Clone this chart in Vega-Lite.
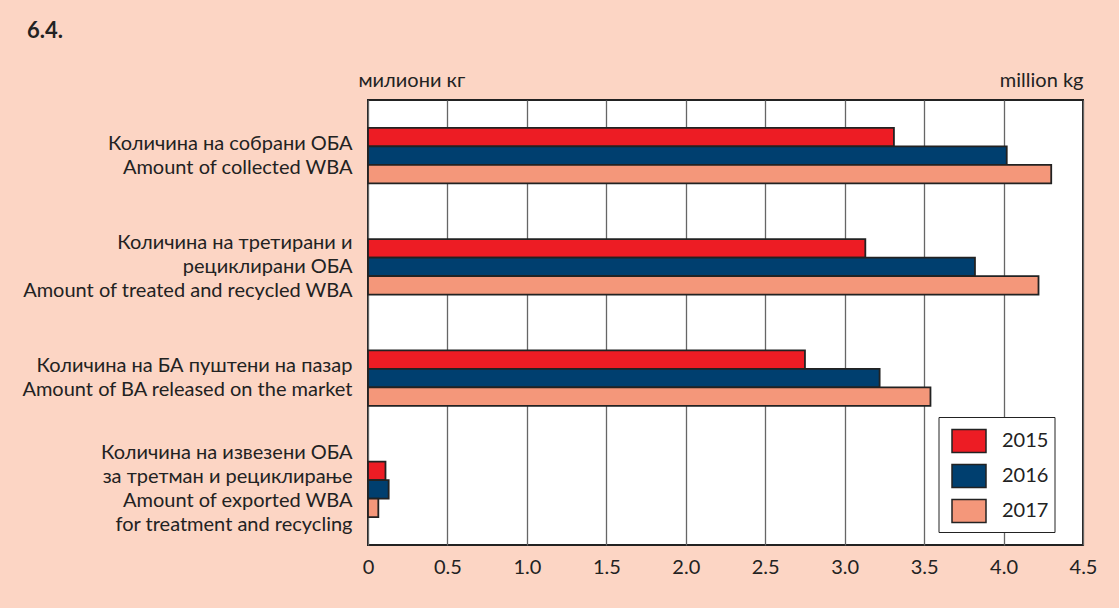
{
  "$schema": "https://vega.github.io/schema/vega-lite/v6.json",
  "width": 715,
  "height": 445,
  "autosize": {"type": "none"},
  "padding": {"left": 368, "top": 100, "right": 36, "bottom": 63},
  "background": "#fcd5c4",
  "title": {
    "text": "6.4.",
    "anchor": "start",
    "frame": "group",
    "font": "Lato",
    "fontSize": 22,
    "fontWeight": "bold",
    "color": "#222222",
    "baseline": "alphabetic",
    "dx": -341,
    "offset": 10
  },
  "data": {
    "values": [
      {"cat": "Количина на собрани ОБА|Amount of collected WBA", "year": "2015", "value": 3.31},
      {"cat": "Количина на собрани ОБА|Amount of collected WBA", "year": "2016", "value": 4.02},
      {"cat": "Количина на собрани ОБА|Amount of collected WBA", "year": "2017", "value": 4.30},
      {"cat": "Количина на третирани и|рециклирани ОБА|Amount of treated and recycled WBA", "year": "2015", "value": 3.13},
      {"cat": "Количина на третирани и|рециклирани ОБА|Amount of treated and recycled WBA", "year": "2016", "value": 3.82},
      {"cat": "Количина на третирани и|рециклирани ОБА|Amount of treated and recycled WBA", "year": "2017", "value": 4.22},
      {"cat": "Количина на БА пуштени на пазар|Amount of BA released on the market", "year": "2015", "value": 2.75},
      {"cat": "Количина на БА пуштени на пазар|Amount of BA released on the market", "year": "2016", "value": 3.22},
      {"cat": "Количина на БА пуштени на пазар|Amount of BA released on the market", "year": "2017", "value": 3.54},
      {"cat": "Количина на извезени ОБА|за третман и рециклирање|Amount of exported WBA|for treatment and recycling", "year": "2015", "value": 0.11},
      {"cat": "Количина на извезени ОБА|за третман и рециклирање|Amount of exported WBA|for treatment and recycling", "year": "2016", "value": 0.13},
      {"cat": "Количина на извезени ОБА|за третман и рециклирање|Amount of exported WBA|for treatment and recycling", "year": "2017", "value": 0.065}
    ]
  },
  "mark": {"type": "bar", "stroke": "#222222", "strokeWidth": 1.8, "cornerRadius": 0},
  "encoding": {
    "y": {
      "field": "cat",
      "type": "nominal",
      "sort": null,
      "scale": {"paddingInner": 0.5, "paddingOuter": 0.25},
      "axis": {
        "title": "million kg",
        "titleAngle": 0,
        "titleX": 715,
        "titleY": -14,
        "titleAlign": "right",
        "titleBaseline": "alphabetic",
        "titleFont": "Lato",
        "titleFontSize": 20,
        "titleFontWeight": "normal",
        "titleColor": "#222222",
        "labelExpr": "split(datum.label, '|')",
        "labelFont": "Lato",
        "labelFontSize": 20,
        "labelLineHeight": 24,
        "labelColor": "#222222",
        "labelPadding": 16,
        "labelLimit": 400,
        "labelBaseline": "middle",
        "labelOffset": {
          "condition": [
            {"test": "indexof(datum.value, 'извезени') >= 0", "value": -36},
            {"test": "indexof(datum.value, 'третирани') >= 0", "value": -24}
          ],
          "value": -12
        },
        "ticks": false,
        "domain": false,
        "grid": false
      }
    },
    "yOffset": {"field": "year", "type": "nominal", "scale": {"paddingInner": 0, "paddingOuter": 0}},
    "x": {
      "field": "value",
      "type": "quantitative",
      "scale": {"domain": [0, 4.5], "nice": false},
      "axis": {
        "values": [0, 0.5, 1, 1.5, 2, 2.5, 3, 3.5, 4, 4.5],
        "labelExpr": "datum.value == 0 ? '0' : format(datum.value, '.1f')",
        "labelFont": "Lato",
        "labelFontSize": 20,
        "labelColor": "#222222",
        "labelPadding": 12,
        "labelFlush": false,
        "ticks": false,
        "domain": false,
        "grid": true,
        "gridColor": "#666666",
        "gridWidth": 1.3,
        "title": "милиони кг",
        "titleX": -10,
        "titleY": -459,
        "titleAlign": "left",
        "titleBaseline": "alphabetic",
        "titleFont": "Lato",
        "titleFontSize": 20,
        "titleFontWeight": "normal",
        "titleColor": "#222222"
      }
    },
    "color": {
      "field": "year",
      "type": "nominal",
      "scale": {"domain": ["2015", "2016", "2017"], "range": ["#ed1c24", "#003f6f", "#f4977a"]},
      "legend": {
        "title": null,
        "orient": "none",
        "legendX": 570.5,
        "legendY": 317,
        "fillColor": "#ffffff",
        "strokeColor": "#222222",
        "padding": 6,
        "symbolOffset": 6.5,
        "symbolType": "M-1,-0.68L1,-0.68L1,0.68L-1,0.68Z",
        "symbolSize": 1156,
        "symbolStrokeColor": "#222222",
        "symbolStrokeWidth": 1.5,
        "symbolOpacity": 1,
        "rowPadding": 2,
        "labelExpr": "datum.label + '  '",
        "labelFont": "Lato",
        "labelFontSize": 20,
        "labelColor": "#222222",
        "labelOffset": 15
      }
    }
  },
  "config": {
    "view": {"fill": "#ffffff", "stroke": "#222222", "strokeWidth": 2},
    "font": "Lato"
  }
}
